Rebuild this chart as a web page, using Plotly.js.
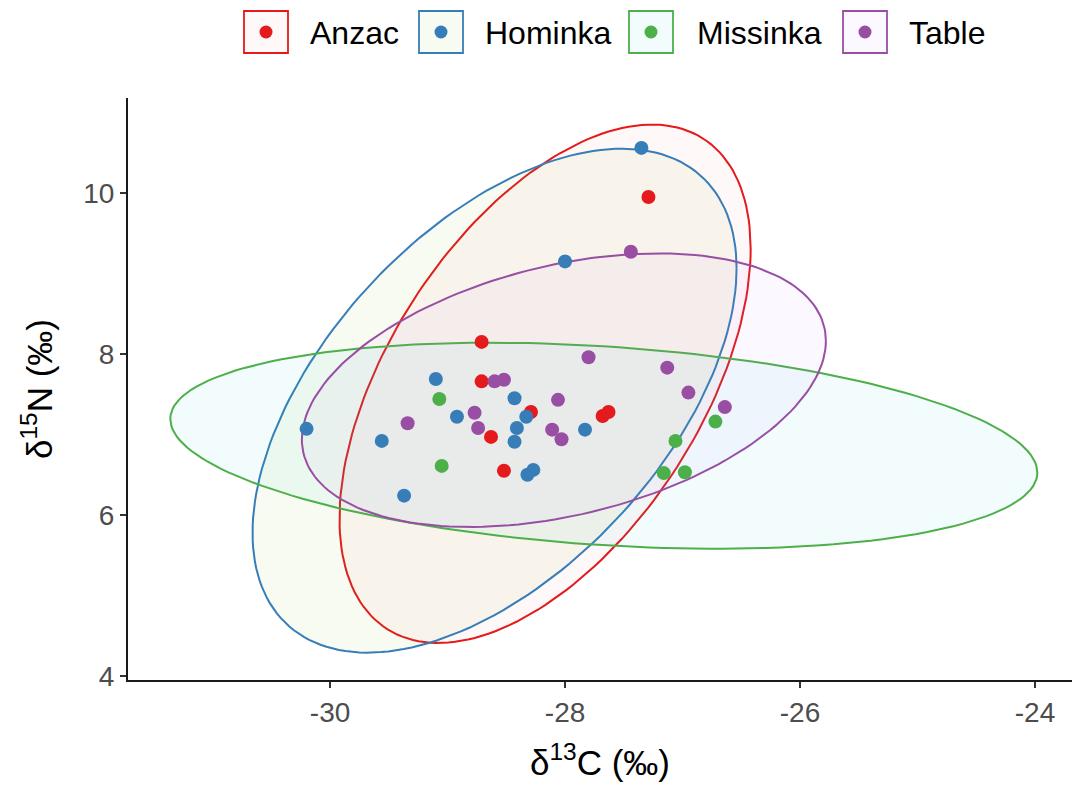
<!DOCTYPE html>
<html>
<head>
<meta charset="utf-8">
<script src="https://cdn.plot.ly/plotly-3.0.1.min.js"></script>
<style>html,body{margin:0;padding:0;background:#fff;}#chart{width:1074px;height:786px;}</style>
</head>
<body>
<div id="chart"></div>
<script>
// ---- data ----
const groups = ['Anzac', 'Hominka', 'Missinka', 'Table'];
const lineColors = ['#E41A1C', '#377EB8', '#4DAF4A', '#984EA3'];
const fillColors = ['rgba(248,118,109,0.05)', 'rgba(124,174,0,0.05)', 'rgba(0,191,196,0.05)', 'rgba(199,124,255,0.05)'];

const anzacX = [-28.71, -28.71, -28.63, -28.52, -28.29, -27.68, -27.63, -27.29];
const anzacY = [8.15, 7.66, 6.97, 6.55, 7.28, 7.23, 7.28, 9.95];
const hominkaX = [-30.20, -29.56, -29.37, -29.10, -28.92, -28.43, -28.33, -28.41, -28.43, -28.32, -28.27, -27.83, -28.00, -27.35];
const hominkaY = [7.07, 6.92, 6.24, 7.69, 7.22, 7.45, 7.22, 7.08, 6.91, 6.50, 6.56, 7.06, 9.15, 10.56];
const missinkaX = [-29.07, -29.05, -27.06, -27.16, -26.98, -26.72];
const missinkaY = [7.44, 6.61, 6.92, 6.52, 6.53, 7.16];
const tableX = [-29.34, -28.77, -28.74, -28.60, -28.52, -28.06, -28.11, -28.03, -27.80, -27.13, -26.95, -26.64, -27.44];
const tableY = [7.14, 7.27, 7.08, 7.66, 7.68, 7.43, 7.06, 6.94, 7.96, 7.83, 7.52, 7.34, 9.27];

// ellipse parameters: centre, half extents, and tilt (y offset at x-extreme / half height)
const ellipseCenterX = [-28.17, -28.60, -27.67, -28.01];
const ellipseCenterY = [7.63, 7.42, 6.86, 7.55];
const ellipseHalfWidth = [1.75, 2.06, 3.69, 2.23];
const ellipseHalfHeight = [3.22, 3.13, 1.28, 1.70];
const ellipseTilt = [0.52, 0.525, -0.26, 0.36];

const xTicks = [-30, -28, -26, -24];
const yTicks = [4, 6, 8, 10];

const pointsX = [anzacX, hominkaX, missinkaX, tableX];
const pointsY = [anzacY, hominkaY, missinkaY, tableY];

// ---- build traces ----
const traces = [];
groups.forEach((g, i) => {
  const ex = [], ey = [];
  const d = Math.acos(ellipseTilt[i]);
  const n = 180;
  for (let k = 0; k <= n; k++) {
    const t = 2 * Math.PI * k / n;
    ex.push(ellipseCenterX[i] + ellipseHalfWidth[i] * Math.cos(t));
    ey.push(ellipseCenterY[i] + ellipseHalfHeight[i] * Math.cos(t - d));
  }
  traces.push({
    x: ex, y: ey, type: 'scatter', mode: 'lines', fill: 'toself',
    fillcolor: fillColors[i], line: {color: lineColors[i], width: 2},
    name: g, showlegend: false, hoverinfo: 'skip'
  });
});
groups.forEach((g, i) => {
  traces.push({
    x: pointsX[i], y: pointsY[i], type: 'scatter', mode: 'markers',
    marker: {color: lineColors[i], size: 14, line: {width: 0}},
    name: g, showlegend: false
  });
});

// ---- manual legend (boxed keys like ggplot) ----
const L = 128, R = 1072, T = 98, B = 680;
const px2x = p => (p - L) / (R - L);
const py2y = p => (B - p) / (B - T);
const keyCenters = [266, 441, 651, 865];
const textStarts = [308, 483, 695, 907];
const shapes = [], annotations = [];
groups.forEach((g, i) => {
  const cx = keyCenters[i], cy = 32;
  shapes.push({type: 'rect', xref: 'paper', yref: 'paper',
    x0: px2x(cx - 22), x1: px2x(cx + 22), y0: py2y(cy + 21), y1: py2y(cy - 21),
    line: {color: lineColors[i], width: 1.8}, fillcolor: fillColors[i]});
  shapes.push({type: 'circle', xref: 'paper', yref: 'paper',
    x0: px2x(cx - 6.5), x1: px2x(cx + 6.5), y0: py2y(cy + 6.5), y1: py2y(cy - 6.5),
    line: {width: 0}, fillcolor: lineColors[i]});
  annotations.push({xref: 'paper', yref: 'paper', x: px2x(textStarts[i]), y: py2y(cy + 1),
    xanchor: 'left', yanchor: 'middle', showarrow: false, text: g,
    font: {size: 32, color: '#000'}});
});

const axisCommon = {
  showgrid: false, zeroline: false, showline: true, linecolor: '#1a1a1a', linewidth: 2,
  ticks: 'outside', ticklen: 6, tickwidth: 1.6, tickcolor: '#333',
  tickfont: {size: 28, color: '#4d4d4d'}
};

const layout = {
  width: 1074, height: 786,
  margin: {l: L, r: 1074 - R, t: T, b: 786 - B, pad: 0},
  paper_bgcolor: '#fff', plot_bgcolor: '#fff',
  font: {family: '"Liberation Sans", Arial, sans-serif', color: '#000'},
  showlegend: false,
  xaxis: Object.assign({}, axisCommon, {
    range: [-31.72, -23.685], tickvals: xTicks, ticktext: xTicks.map(String),
    title: {text: 'δ<sup>13</sup>C (‰)', font: {size: 35, color: '#000'}, standoff: 24}
  }),
  yaxis: Object.assign({}, axisCommon, {
    range: [3.95, 11.18], tickvals: yTicks, ticktext: yTicks.map(String),
    title: {text: 'δ<sup>15</sup>N (‰)', font: {size: 35, color: '#000'}, standoff: 20}
  }),
  shapes: shapes,
  annotations: annotations
};

Plotly.newPlot('chart', traces, layout, {displayModeBar: false, staticPlot: true});
</script>
</body>
</html>
